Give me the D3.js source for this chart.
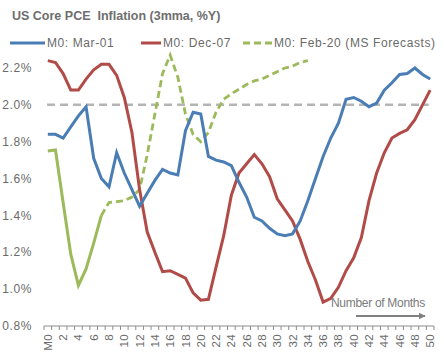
<!DOCTYPE html>
<html>
<head>
<meta charset="utf-8">
<script src="https://cdn.jsdelivr.net/npm/d3@7"></script>
<style>
  body { margin: 0; background: #fff; }
  text { font-family: "Liberation Sans", Arial, sans-serif; }
</style>
</head>
<body>
<svg id="chart" width="444" height="353"></svg>
<script>
// months since M0
var months = d3.range(0, 51);

// M0: Mar-01 (blue)
var mar01 = [1.84, 1.84, 1.82, 1.88, 1.94, 1.99, 1.71, 1.60, 1.555, 1.74,
  1.63, 1.54, 1.45, 1.52, 1.59, 1.65, 1.63, 1.62, 1.86, 1.96,
  1.95, 1.72, 1.70, 1.69, 1.67, 1.58, 1.50, 1.39, 1.37, 1.33,
  1.30, 1.29, 1.30, 1.37, 1.48, 1.60, 1.72, 1.82, 1.90, 2.03,
  2.04, 2.02, 1.99, 2.01, 2.08, 2.12, 2.165, 2.17, 2.20, 2.165, 2.14];

// M0: Dec-07 (red)
var dec07 = [2.24, 2.23, 2.17, 2.08, 2.08, 2.14, 2.19, 2.22, 2.22, 2.16,
  2.04, 1.85, 1.54, 1.31, 1.20, 1.095, 1.10, 1.08, 1.06, 0.98,
  0.94, 0.945, 1.12, 1.29, 1.51, 1.63, 1.68, 1.73, 1.68, 1.61,
  1.49, 1.43, 1.37, 1.27, 1.15, 1.05, 0.93, 0.95, 1.01, 1.10,
  1.17, 1.28, 1.48, 1.63, 1.74, 1.82, 1.845, 1.865, 1.92, 2.00, 2.08];

// M0: Feb-20 actuals (solid) then MS forecasts (dashed)
var feb20 = [1.75, 1.755, 1.47, 1.19, 1.02, 1.11, 1.25, 1.40];
var feb20Fcst = [1.40, 1.47, 1.475, 1.48, 1.50, 1.54, 1.73, 1.95, 2.17, 2.27,
  2.15, 1.95, 1.84, 1.80, 1.85, 1.96, 2.03, 2.06, 2.085, 2.11,
  2.13, 2.14, 2.16, 2.18, 2.20, 2.21, 2.23, 2.24];
var fcstStart = 7;

var yTicks = [0.8, 1.0, 1.2, 1.4, 1.6, 1.8, 2.0, 2.2];
var refLevel = 2.0;

var legendNames = ['M0: Mar-01', 'M0: Dec-07', 'M0: Feb-20 (MS Forecasts)'];
var colors = ['#4a7db4', '#b14b48', '#9cba5a'];

var svg = d3.select('#chart');

var x = d3.scaleLinear().domain([-0.5, 50.5]).range([44, 434]);
var y = d3.scaleLinear().domain([0.8, 2.2]).range([326, 68]);

// title
svg.append('text')
  .attr('x', 12).attr('y', 20)
  .style('font-size', '12.5px')
  .style('font-weight', 'bold')
  .style('fill', '#6e6e6e')
  .text('US Core PCE  Inflation (3mma, %Y)')
  .attr('xml:space', 'preserve')
  .style('white-space', 'pre');

// y labels
svg.selectAll('.ylab')
  .data(yTicks)
  .enter().append('text')
  .attr('class', 'ylab')
  .attr('x', 32)
  .attr('y', function(d) { return y(d); })
  .attr('dy', '0.35em')
  .attr('text-anchor', 'end')
  .style('font-size', '12px')
  .style('letter-spacing', '0.6px')
  .style('fill', '#6a6a6a')
  .text(function(d) { return d.toFixed(1) + '%'; });

// x axis line + ticks between categories
svg.append('line')
  .attr('x1', x(-0.5)).attr('x2', x(50.5))
  .attr('y1', y(0.8)).attr('y2', y(0.8))
  .style('stroke', '#8c8c8c').style('stroke-width', 1);

svg.selectAll('.xtick')
  .data(d3.range(-0.5, 51, 1))
  .enter().append('line')
  .attr('class', 'xtick')
  .attr('x1', function(d) { return x(d); })
  .attr('x2', function(d) { return x(d); })
  .attr('y1', y(0.8)).attr('y2', y(0.8) + 4)
  .style('stroke', '#8c8c8c').style('stroke-width', 1);

svg.selectAll('.xlab')
  .data(months.filter(function(m) { return m % 2 == 0; }))
  .enter().append('text')
  .attr('class', 'xlab')
  .attr('transform', function(d) { return 'translate(' + x(d) + ',' + 334 + ') rotate(-90)'; })
  .attr('dy', '0.35em')
  .attr('text-anchor', 'end')
  .style('font-size', '11.5px')
  .style('letter-spacing', '0.4px')
  .style('fill', '#6a6a6a')
  .text(function(d) { return d == 0 ? 'M0' : d; });

// 2% reference line
svg.append('line')
  .attr('x1', x(-0.1)).attr('x2', x(49.8))
  .attr('y1', y(refLevel)).attr('y2', y(refLevel))
  .style('stroke', '#b4b4b4')
  .style('stroke-width', 2.5)
  .style('stroke-dasharray', '8,5');

var line = d3.line()
  .x(function(d) { return x(d[0]); })
  .y(function(d) { return y(d[1]); });

function pairs(vals, start) {
  return vals.map(function(v, i) { return [start + i, v]; });
}

svg.append('path')
  .attr('d', line(pairs(feb20Fcst, fcstStart)))
  .style('fill', 'none')
  .style('stroke', colors[2])
  .style('stroke-width', 2.8)
  .style('stroke-dasharray', '7,4');

svg.append('path')
  .attr('d', line(pairs(feb20, 0)))
  .style('fill', 'none')
  .style('stroke', colors[2])
  .style('stroke-width', 3);

svg.append('path')
  .attr('d', line(pairs(dec07, 0)))
  .style('fill', 'none')
  .style('stroke', colors[1])
  .style('stroke-width', 3);

svg.append('path')
  .attr('d', line(pairs(mar01, 0)))
  .style('fill', 'none')
  .style('stroke', colors[0])
  .style('stroke-width', 3);

// legend
var legX = [10, 141, 243];
var legW = [35, 20, 29];
legendNames.forEach(function(name, i) {
  svg.append('line')
    .attr('x1', legX[i]).attr('x2', legX[i] + legW[i])
    .attr('y1', 43).attr('y2', 43)
    .style('stroke', colors[i])
    .style('stroke-width', 3)
    .style('stroke-dasharray', i == 2 ? '7,4' : null);
  svg.append('text')
    .attr('x', legX[i] + legW[i] + 2)
    .attr('y', 43).attr('dy', '0.35em')
    .style('font-size', '12px')
    .style('letter-spacing', '0.6px')
    .style('fill', '#6a6a6a')
    .text(name);
});

// number of months annotation
svg.append('text')
  .attr('x', 331).attr('y', 303).attr('dy', '0.35em')
  .style('font-size', '12px')
  .style('letter-spacing', '-0.3px')
  .style('fill', '#7a7a7a')
  .text('Number of Months');

svg.append('defs').append('marker')
  .attr('id', 'arr')
  .attr('viewBox', '0 0 10 10')
  .attr('refX', 9).attr('refY', 5)
  .attr('markerWidth', 4).attr('markerHeight', 4)
  .attr('orient', 'auto')
  .append('path')
  .attr('d', 'M0,0L10,5L0,10z')
  .style('fill', '#808080');

svg.append('line')
  .attr('x1', 356).attr('x2', 425)
  .attr('y1', 316).attr('y2', 316)
  .style('stroke', '#808080')
  .style('stroke-width', 1.8)
  .attr('marker-end', 'url(#arr)');
</script>
</body>
</html>
